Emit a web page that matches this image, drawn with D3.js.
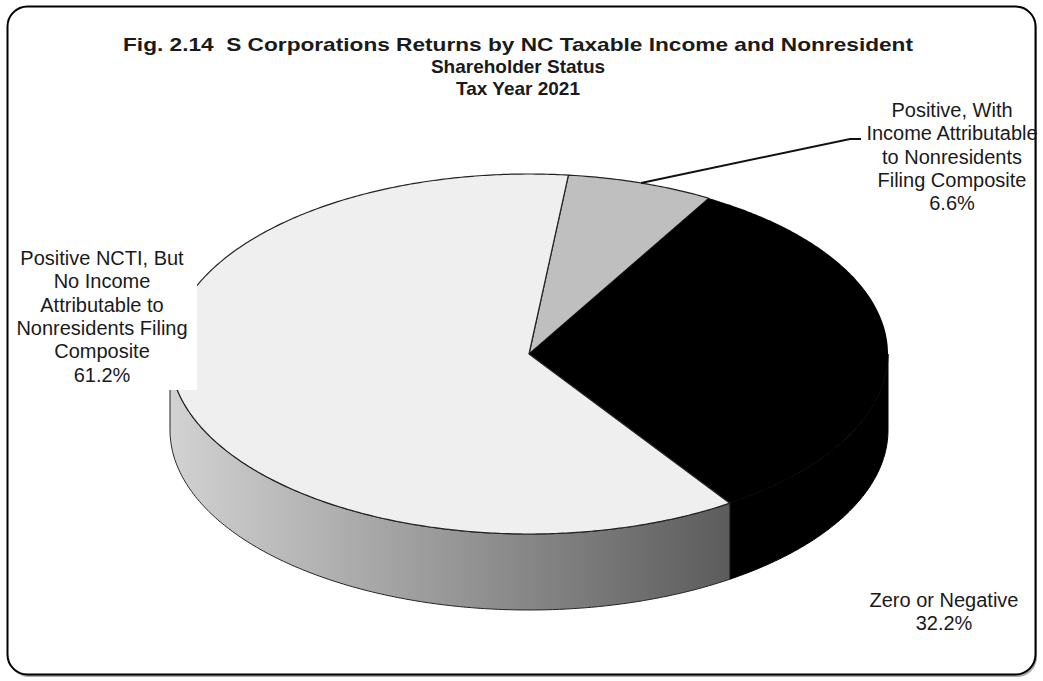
<!DOCTYPE html>
<html>
<head>
<meta charset="utf-8">
<script src="https://cdn.jsdelivr.net/npm/d3@7"></script>
<style>
  html, body { margin: 0; padding: 0; background: #fff; }
  svg { display: block; }
  text { font-family: "Liberation Sans", Arial, sans-serif; fill: #1a1a1a; white-space: pre; }
</style>
</head>
<body>
<svg id="chart" width="1043" height="681"></svg>
<script>
// Share of S corporation returns, tax year 2021 (drawn clockwise in this order)
const categories = [
  "Positive, With Income Attributable to Nonresidents Filing Composite",
  "Zero or Negative",
  "Positive NCTI, But No Income Attributable to Nonresidents Filing Composite"
];
const shares = [6.6, 32.2, 61.2];
const labelLines = [
  ["Positive, With", "Income Attributable", "to Nonresidents", "Filing Composite"],
  ["Zero or Negative"],
  ["Positive NCTI, But", "No Income", "Attributable to", "Nonresidents Filing", "Composite"]
];
const titleLines = [
  "Fig. 2.14  S Corporations Returns by NC Taxable Income and Nonresident",
  "Shareholder Status",
  "Tax Year 2021"
];

const svg = d3.select("#chart");
const W = 1043, H = 681;

// Outer rounded frame with a soft drop edge
svg.append("rect")
  .attr("x", 9).attr("y", 8).attr("width", W - 15).attr("height", H - 12)
  .attr("rx", 20).attr("fill", "#555").attr("opacity", 0.5);
svg.append("rect")
  .attr("x", 7.5).attr("y", 6.5).attr("width", W - 15).attr("height", H - 13)
  .attr("rx", 20).attr("fill", "#fff").attr("stroke", "#000").attr("stroke-width", 2);

// Title: first line spread across the chart width
const title = svg.append("g").selectAll("text").data(titleLines).join("text")
  .attr("x", 518).attr("y", (d, i) => 51 + i * 22)
  .attr("text-anchor", "middle")
  .attr("font-size", 19).attr("font-weight", "bold")
  .text(d => d);
title.filter((d, i) => i === 0)
  .attr("textLength", 790)
  .attr("lengthAdjust", "spacingAndGlyphs");

// Tilted pie geometry
const cx = 529, cy = 354, rx = 359, ry = 180, depth = 76;
const startAngle = 6.3 * Math.PI / 180;
const pie = d3.pie().sort(null).value(d => d)
  .startAngle(startAngle).endAngle(startAngle + 2 * Math.PI);
const arcs = pie(shares);

// angle measured clockwise from 12 o'clock
const px = a => cx + rx * Math.sin(a);
const py = a => cy - ry * Math.cos(a);

const topFill = ["#bfbfbf", "#000000", "#efefef"];
const topStroke = ["#222", "none", "#222"];

const defs = svg.append("defs");
const grad = defs.append("linearGradient").attr("id", "sideGrad")
  .attr("gradientUnits", "userSpaceOnUse")
  .attr("x1", cx - rx).attr("x2", px(arcs[2].startAngle)).attr("y1", 0).attr("y2", 0);
grad.append("stop").attr("offset", 0).attr("stop-color", "#d2d2d2");
grad.append("stop").attr("offset", 1).attr("stop-color", "#5c5c5c");
const sideFill = ["#8a8a8a", "#000000", "url(#sideGrad)"];

function arcPts(a0, a1, dy) {
  const n = Math.max(2, Math.ceil(Math.abs(a1 - a0) / 0.01));
  const pts = [];
  for (let i = 0; i <= n; i++) {
    const a = a0 + (a1 - a0) * i / n;
    pts.push([px(a), py(a) + dy]);
  }
  return pts;
}

// Side walls: only the front half (angles between 90° and 270°) is visible
const sides = svg.append("g");
arcs.forEach((d, i) => {
  const periods = [Math.PI / 2, 3 * Math.PI / 2];
  for (const shift of [0, 2 * Math.PI]) {
    const a0 = Math.max(d.startAngle, periods[0] + shift);
    const a1 = Math.min(d.endAngle, periods[1] + shift);
    if (a1 <= a0) continue;
    const top = arcPts(a0, a1, 0);
    const bottom = arcPts(a1, a0, depth);
    sides.append("path")
      .attr("d", d3.line()(top.concat(bottom)) + "Z")
      .attr("fill", sideFill[i])
      .attr("stroke", i === 1 ? "#000" : "#222")
      .attr("stroke-width", 1);
  }
});

// Top faces
const tops = svg.append("g");
arcs.forEach((d, i) => {
  const pts = [[cx, cy]].concat(arcPts(d.startAngle, d.endAngle, 0));
  tops.append("path")
    .attr("d", d3.line()(pts) + "Z")
    .attr("fill", topFill[i])
    .attr("stroke", topStroke[i])
    .attr("stroke-width", 1.2)
    .attr("stroke-linejoin", "round");
});

// Labels
const fmt = v => d3.format(".1f")(v) + "%";
const lineH = 23.3;
const labelPos = [
  { x: 952, y: 110 },
  { x: 944, y: 600 },
  { x: 102, y: 258 }
];

// Leader line to the small slice
const midA = (arcs[0].startAngle + arcs[0].endAngle) / 2;
svg.append("path")
  .attr("d", d3.line()([[px(midA), py(midA)], [850, 139], [861, 139]]))
  .attr("fill", "none").attr("stroke", "#111").attr("stroke-width", 2);

// White box behind the large slice's label
svg.append("rect")
  .attr("x", 12).attr("y", 238).attr("width", 185).attr("height", 152)
  .attr("fill", "#fff");

arcs.forEach((d, i) => {
  const lines = labelLines[i].concat([fmt(shares[i])]);
  svg.append("g").selectAll("text").data(lines).join("text")
    .attr("x", labelPos[i].x)
    .attr("y", (t, j) => labelPos[i].y + 7 + j * lineH)
    .attr("text-anchor", "middle")
    .attr("font-size", 20)
    .text(t => t);
});
</script>
</body>
</html>
